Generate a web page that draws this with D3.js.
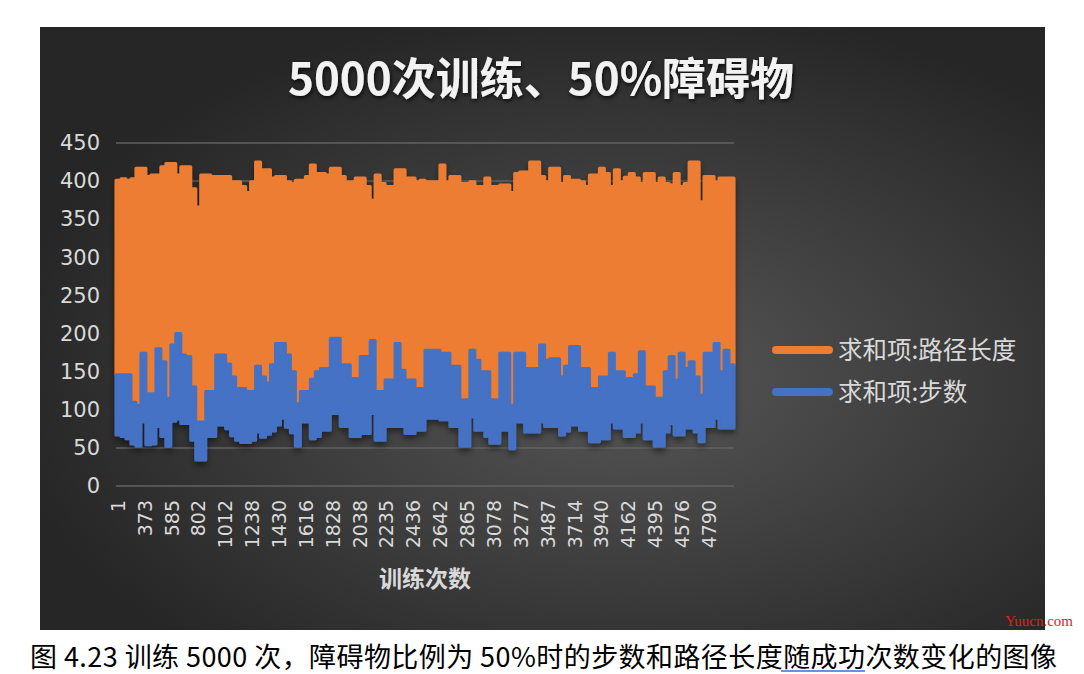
<!DOCTYPE html>
<html><head><meta charset="utf-8">
<script src="https://cdn.jsdelivr.net/npm/d3@7/dist/d3.min.js"></script>
<style>html,body{margin:0;padding:0;background:#fff;}svg{display:block;}</style>
</head><body>
<script>
// ---------- DATA ----------
const chartTitle = "5000次训练、50%障碍物";
const xAxisTitle = "训练次数";
const seriesNames = ["求和项:路径长度", "求和项:步数"];
const xLabels = ["1","373","585","802","1012","1238","1430","1616","1828","2038","2235","2436","2642","2865","3078","3277","3487","3714","3940","4162","4395","4576","4790"];
const yTicks = [0,50,100,150,200,250,300,350,400,450];
// upper envelope of 路径长度 (path length)
const pathMax = [401,403,401,403,417,417,406,408,408,419,423,423,408,419,419,390,366,408,408,406,406,406,406,399,399,393,385,399,425,415,415,404,406,406,399,397,401,401,406,421,410,
 410,408,417,417,406,399,399,404,404,393,375,408,397,393,393,415,415,404,404,399,401,399,399,399,421,399,406,406,397,397,399,393,393,404,393,393,395,395,385,410,412,412,
 425,425,406,399,417,417,397,406,401,401,399,393,408,408,417,410,393,415,399,405,410,404,397,410,410,397,404,397,395,410,393,397,425,425,373,406,406,399,404,404,404];
// upper envelope of 步数 (steps)
const stepMax = [146,146,146,110,106,174,121,121,180,163,115,185,200,172,170,130,84,84,124,124,172,172,160,143,128,128,124,124,157,143,135,159,187,187,172,150,108,124,124,140,150,
 154,154,194,194,159,159,141,141,170,170,191,124,124,139,139,187,152,139,139,128,128,178,178,178,174,174,157,157,113,113,178,165,150,150,113,113,174,174,106,174,174,154,
 154,154,185,165,167,167,143,157,183,183,154,154,128,128,143,143,174,150,150,141,141,146,176,130,130,115,115,150,170,139,174,154,163,143,119,174,174,187,150,178,159];
// lower envelope of 步数 (steps)
const stepMin = [67,65,62,55,52,84,54,55,78,65,52,85,88,82,82,60,34,34,65,65,80,80,75,66,60,57,57,60,71,64,68,72,80,89,77,70,52,84,84,62,65,
 73,73,95,95,78,78,65,65,69,69,95,60,60,78,78,78,78,69,69,73,73,89,89,89,87,87,78,78,52,52,91,73,73,65,56,56,73,73,49,84,84,71,
 71,71,84,78,78,78,67,72,80,80,73,73,58,58,62,62,84,76,76,65,65,71,84,62,62,52,52,71,82,67,67,76,76,71,58,78,78,89,76,76,76];
const caption = "图 4.23 训练 5000 次，障碍物比例为 50%时的步数和路径长度随成功次数变化的图像";

// ---------- LAYOUT ----------
const W = 1084, H = 674;
const colors = ["#ED7D31", "#4472C4"];
const plot = {left:116, right:734, top:143, bottom:486};
const N = pathMax.length;

const svg = d3.select("body").append("svg").attr("width", W).attr("height", H);
const defs = svg.append("defs");
const rg = defs.append("radialGradient").attr("id","bg").attr("cx","58%").attr("cy","58%").attr("r","62%");
rg.append("stop").attr("offset","0%").attr("stop-color","#575757");
rg.append("stop").attr("offset","100%").attr("stop-color","#262626");
const sh = defs.append("filter").attr("id","shadow").attr("x","-10%").attr("y","-10%").attr("width","120%").attr("height","130%");
sh.append("feDropShadow").attr("dx",0).attr("dy",4).attr("stdDeviation",3).attr("flood-color","#000").attr("flood-opacity",0.45);
const tsh = defs.append("filter").attr("id","tshadow").attr("x","-10%").attr("y","-30%").attr("width","120%").attr("height","160%");
tsh.append("feDropShadow").attr("dx",1).attr("dy",2).attr("stdDeviation",2).attr("flood-color","#000").attr("flood-opacity",0.8);

svg.append("rect").attr("width",W).attr("height",H).attr("fill","#fff");
svg.append("rect").attr("x",40).attr("y",27).attr("width",1005).attr("height",603).attr("fill","url(#bg)");

const x = d3.scaleLinear().domain([0, xLabels.length]).range([plot.left, plot.right]);
const y = d3.scaleLinear().domain([0, 450]).range([plot.bottom, plot.top]);
const step = xLabels.length / N;

// gridlines
svg.append("g").selectAll("line").data(yTicks).join("line")
  .attr("x1", plot.left).attr("x2", plot.right)
  .attr("y1", d => y(d)).attr("y2", d => y(d))
  .attr("stroke", "#626262").attr("stroke-width", 1.5);

// series
const idx = d3.range(N + 1);
const pick = (arr, i) => arr[Math.min(i, N - 1)];
const orangeArea = d3.area().curve(d3.curveStepAfter)
  .x(i => x(i * step)).y0(i => y(pick(stepMax, i))).y1(i => y(pick(pathMax, i)));
const blueArea = d3.area().curve(d3.curveStepAfter)
  .x(i => x(i * step)).y0(i => y(pick(stepMin, i))).y1(i => y(pick(stepMax, i)));
const sg = svg.append("g").attr("filter","url(#shadow)");
sg.append("path").attr("d", orangeArea(idx)).attr("fill", colors[0])
  .attr("stroke", colors[0]).attr("stroke-width", 3).attr("stroke-linejoin","round");
sg.append("path").attr("d", blueArea(idx)).attr("fill", colors[1])
  .attr("stroke", colors[1]).attr("stroke-width", 3).attr("stroke-linejoin","round");

// y axis
const yAxis = svg.append("g").attr("transform", `translate(${plot.left - 14},0)`)
  .call(d3.axisLeft(y).tickValues(yTicks).tickSize(0).tickPadding(2));
yAxis.select(".domain").remove();
yAxis.selectAll("text").attr("fill","#d9d9d9").style("font-family","DejaVu Sans").style("font-size","21px");

// x axis
const xAxis = svg.append("g").attr("transform", `translate(0,500)`)
  .call(d3.axisBottom(x).tickValues(d3.range(xLabels.length).map(j => j + 0.06)).tickFormat(v => xLabels[Math.round(v - 0.06)]).tickSize(0));
xAxis.select(".domain").remove();
xAxis.selectAll("text").attr("x",0).attr("y",0).attr("dy","0.35em")
  .attr("transform","rotate(-90)").style("text-anchor","end")
  .attr("fill","#d9d9d9").style("font-family","DejaVu Sans").style("font-size","19px");

// titles
svg.append("text").attr("x", 541).attr("y", 95).attr("text-anchor","middle")
  .attr("fill","#f2f2f2").attr("filter","url(#tshadow)")
  .style("font-family","Noto Sans CJK SC").style("font-weight","bold").style("font-size","44px")
  .text(chartTitle);
svg.append("text").attr("x", (plot.left + plot.right)/2).attr("y", 587).attr("text-anchor","middle")
  .attr("fill","#d9d9d9").style("font-family","Noto Sans CJK SC").style("font-weight","bold").style("font-size","23px")
  .text(xAxisTitle);

// legend
const lg = svg.append("g");
seriesNames.forEach((name, k) => {
  const cy = 350 + k * 42;
  lg.append("line").attr("x1", 776).attr("x2", 829).attr("y1", cy).attr("y2", cy)
    .attr("stroke", colors[k]).attr("stroke-width", 8).attr("stroke-linecap","round");
  lg.append("text").attr("x", 838).attr("y", cy + 9).attr("fill","#d9d9d9")
    .style("font-family","Noto Sans CJK SC").style("font-size","24.5px").text(name);
});

// caption
svg.append("text").attr("x", 30).attr("y", 667).attr("fill","#000")
  .attr("textLength", 1027).attr("lengthAdjust","spacing")
  .style("font-family","Noto Sans CJK SC").style("font-size","27px").text(caption);
svg.append("line").attr("x1",781).attr("x2",865).attr("y1",671).attr("y2",671).attr("stroke","#3a6fd0").attr("stroke-width",1.5);
svg.append("text").attr("x", 1073).attr("y", 626).attr("text-anchor","end").attr("fill","#e0201b")
  .style("font-family","Liberation Serif").style("font-size","15px").text("Yuucn.com");
</script>
</body></html>
